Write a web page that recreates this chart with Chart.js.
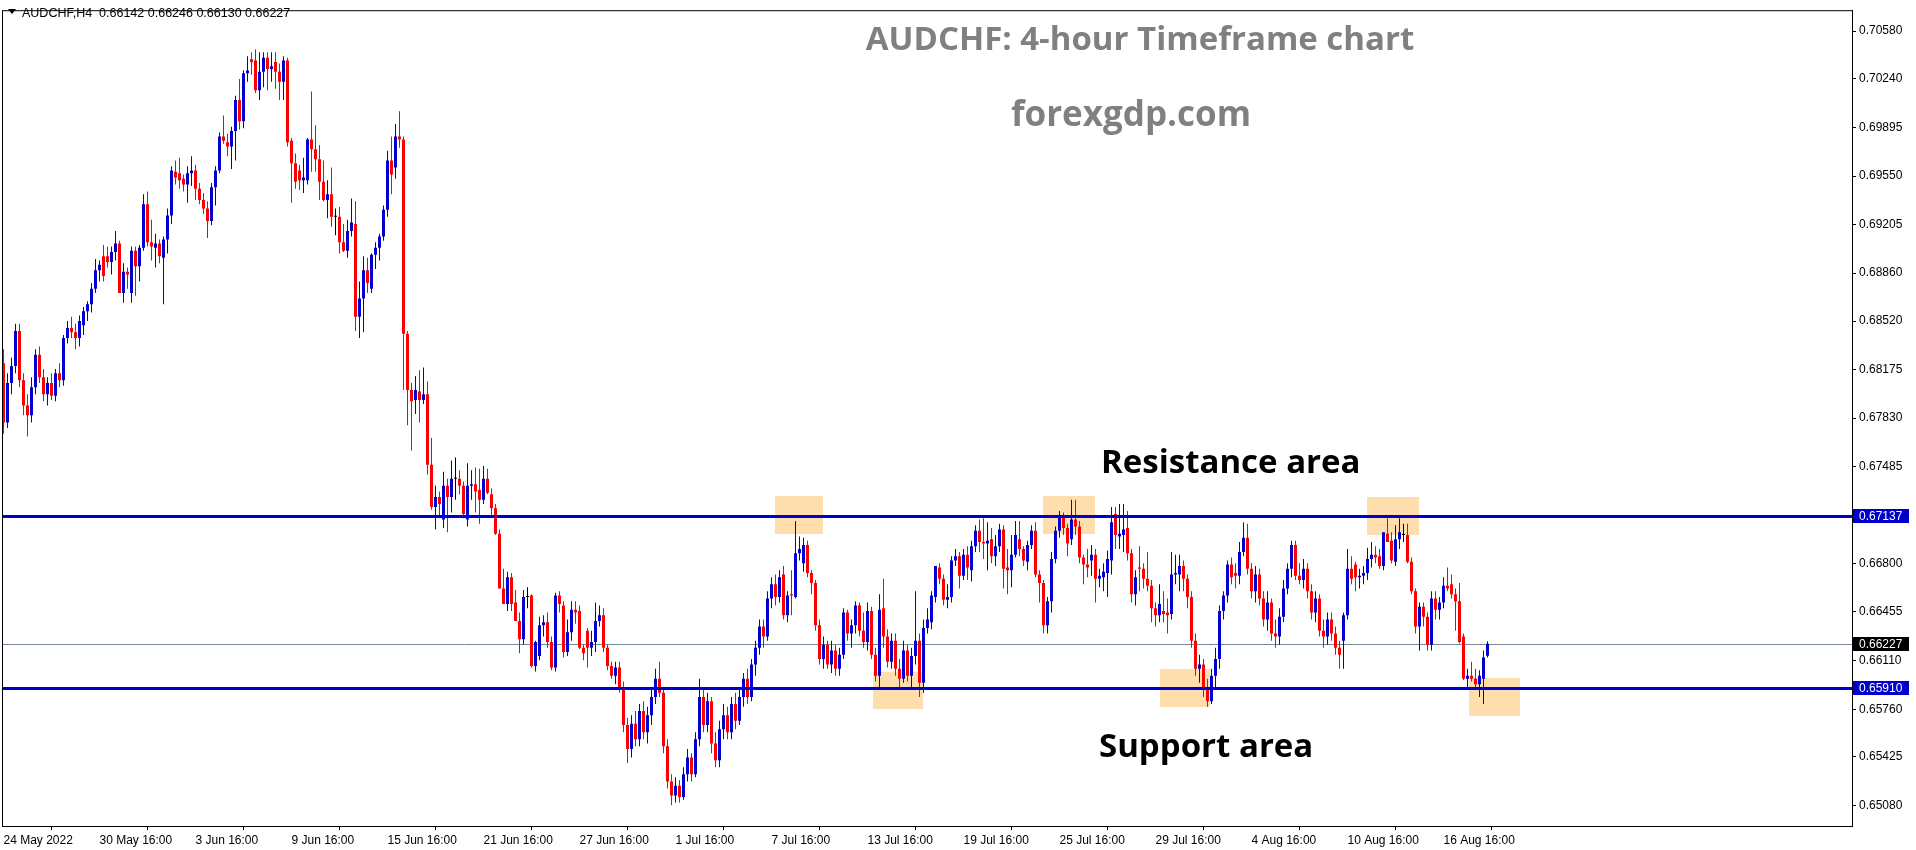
<!DOCTYPE html>
<html><head><meta charset="utf-8">
<script src="https://cdn.jsdelivr.net/npm/chart.js@4.4.1/dist/chart.umd.min.js"></script>
<style>html,body{margin:0;padding:0;background:#fff;overflow:hidden}canvas{display:block}</style>
</head><body>
<canvas id="c" width="1916" height="850" style="width:1916px;height:850px"></canvas>
<script>
// AUDCHF H4 candles, prices in pips (price x 10000)
const O = [6822,6780,6808,6820,6845,6810,6792,6785,6805,6828,6812,6800,6808,6799,6815,6810,6840,6847,6844,6840,
6849,6859,6864,6875,6888,6898,6898,6894,6901,6907,6872,6887,6872,6902,6891,6904,6935,6908,6904,6907,
6897,6910,6927,6958,6957,6953,6949,6957,6959,6946,6938,6932,6923,6947,6959,6983,6979,6976,6987,7009,
6994,7028,7038,7037,7016,7029,7039,7031,7036,7029,7022,7037,6980,6964,6959,6952,6952,6981,6974,6967,
6951,6938,6942,6926,6926,6908,6902,6916,6921,6855,6868,6888,6875,6899,6904,6912,6931,6966,6961,6983,
6981,6843,6803,6796,6802,6796,6800,6750,6720,6727,6711,6735,6727,6740,6740,6735,6711,6735,6736,6732,
6725,6740,6729,6719,6701,6662,6651,6670,6652,6639,6626,6656,6657,6607,6614,6636,6638,6624,6606,6657,
6650,6617,6631,6647,6646,6620,6632,6620,6624,6639,6643,6620,6607,6600,6606,6592,6565,6548,6566,6555,
6575,6560,6572,6585,6598,6588,6550,6525,6515,6522,6514,6530,6542,6530,6555,6585,6565,6582,6552,6540,
6562,6572,6560,6580,6568,6585,6598,6585,6608,6620,6635,6628,6655,6665,6656,6672,6643,6658,6656,6687,
6680,6693,6673,6666,6636,6612,6622,6608,6618,6605,6615,6645,6630,6636,6650,6632,6624,6646,6615,6600,
6648,6628,6610,6625,6605,6598,6618,6600,6614,6625,6595,6634,6638,6656,6677,6669,6654,6656,6682,6685,
6671,6686,6675,6692,6703,6695,6694,6697,6685,6692,6704,6677,6675,6686,6697,6690,6681,6693,6703,6672,
6666,6636,6653,6683,6703,6714,6705,6697,6711,6706,6684,6679,6682,6686,6669,6670,6673,6682,6715,6699,
6700,6705,6687,6658,6677,6676,6669,6664,6648,6643,6646,6645,6644,6672,6672,6678,6669,6656,6625,6605,
6608,6590,6582,6600,6612,6646,6657,6679,6673,6671,6688,6698,6676,6660,6672,6655,6640,6652,6630,6628,
6642,6662,6676,6693,6671,6668,6676,6660,6645,6655,6632,6628,6640,6630,6620,6625,6643,6676,6679,6670,
6671,6673,6683,6686,6685,6678,6701,6696,6681,6697,6700,6700,6681,6660,6635,6649,6642,6622,6655,6647,
6652,6664,6665,6658,6653,6628,6598,6600,6598,6594,6598,6614.2];
const H = [6832,6815,6826,6850,6850,6815,6800,6812,6832,6834,6818,6812,6815,6818,6822,6842,6852,6855,6850,6856,
6862,6866,6879,6896,6895,6906,6905,6905,6916,6909,6893,6890,6905,6905,6906,6942,6944,6924,6914,6910,
6912,6932,6962,6966,6968,6956,6962,6969,6963,6950,6943,6937,6950,6962,6986,6998,6985,6990,7012,7024,
7030,7040,7043,7045,7043,7043,7043,7043,7043,7035,7040,7039,6982,6971,6963,6968,6982,7015,6991,6977,
6966,6952,6961,6932,6933,6921,6924,6939,6937,6880,6898,6897,6900,6908,6914,6934,6973,6983,6992,7001,
6983,6845,6808,6813,6817,6819,6809,6769,6735,6731,6745,6740,6753,6755,6746,6738,6751,6746,6748,6747,
6749,6747,6733,6722,6704,6676,6674,6673,6661,6645,6661,6663,6658,6625,6642,6643,6645,6628,6659,6660,
6653,6640,6653,6653,6650,6622,6634,6632,6652,6650,6648,6622,6610,6610,6610,6596,6570,6572,6575,6580,
6582,6578,6590,6605,6610,6592,6555,6530,6528,6526,6535,6548,6545,6560,6598,6590,6588,6585,6560,6568,
6580,6578,6585,6588,6590,6602,6605,6612,6625,6640,6640,6660,6670,6672,6675,6678,6660,6675,6710,6699,
6698,6696,6675,6668,6640,6628,6625,6625,6622,6620,6648,6647,6640,6653,6652,6645,6652,6649,6620,6658,
6669,6633,6630,6630,6612,6625,6622,6620,6660,6630,6640,6648,6660,6678,6680,6672,6665,6685,6690,6688,
6690,6692,6696,6707,6711,6712,6709,6705,6700,6708,6707,6690,6700,6710,6710,6692,6696,6707,6709,6675,
6668,6656,6688,6706,6717,6716,6708,6725,6725,6710,6686,6690,6693,6690,6676,6680,6689,6720,6720,6722,
6722,6717,6690,6675,6692,6680,6688,6668,6652,6665,6660,6655,6688,6686,6686,6682,6672,6660,6630,6615,
6612,6598,6605,6620,6650,6660,6682,6684,6680,6695,6709,6708,6680,6678,6676,6660,6660,6655,6640,6648,
6668,6680,6696,6696,6680,6683,6680,6665,6660,6658,6640,6645,6645,6635,6625,6645,6690,6685,6681,6676,
6678,6691,6695,6692,6690,6702,6712,6702,6707,6712,6708,6708,6684,6662,6652,6652,6645,6660,6660,6656,
6670,6677,6672,6662,6666,6630,6605,6610,6605,6604,6618,6624.6];
const L = [6772,6776,6800,6815,6805,6785,6770,6780,6800,6808,6795,6792,6796,6795,6805,6806,6836,6840,6832,6834,
6842,6852,6858,6872,6880,6880,6890,6885,6895,6872,6865,6875,6865,6870,6880,6902,6905,6895,6890,6893,
6864,6900,6921,6949,6946,6944,6936,6948,6938,6935,6928,6911,6920,6934,6957,6978,6969,6960,6966,6988,
6989,7022,7027,7014,7009,7018,7016,7022,7017,7009,7009,6976,6936,6946,6945,6943,6949,6958,6958,6938,
6937,6925,6919,6913,6900,6901,6897,6912,6845,6840,6844,6872,6872,6889,6895,6909,6926,6942,6953,6975,
6803,6778,6760,6786,6780,6793,6743,6718,6704,6713,6705,6702,6716,6725,6729,6712,6706,6725,6716,6708,
6722,6729,6714,6700,6662,6651,6646,6646,6639,6616,6622,6648,6606,6603,6611,6628,6620,6604,6603,6645,
6613,6614,6625,6637,6619,6611,6606,6614,6617,6635,6617,6604,6598,6594,6588,6560,6538,6542,6550,6550,
6555,6552,6565,6580,6585,6545,6520,6508,6510,6510,6512,6525,6525,6528,6550,6560,6560,6545,6535,6535,
6555,6555,6555,6562,6565,6578,6580,6582,6600,6615,6620,6625,6648,6650,6652,6640,6638,6643,6655,6682,
6674,6670,6658,6632,6608,6605,6605,6602,6600,6600,6612,6625,6620,6630,6628,6620,6618,6612,6596,6592,
6620,6606,6605,6600,6590,6595,6596,6592,6608,6585,6588,6630,6633,6652,6665,6650,6648,6652,6678,6662,
6668,6668,6667,6688,6688,6683,6675,6680,6678,6688,6662,6658,6663,6684,6685,6678,6675,6690,6670,6652,
6630,6630,6645,6680,6698,6700,6685,6693,6700,6680,6665,6670,6671,6652,6663,6660,6656,6672,6690,6690,
6688,6682,6652,6650,6660,6662,6660,6638,6635,6638,6638,6630,6640,6665,6660,6660,6648,6620,6600,6595,
6585,6578,6580,6590,6605,6640,6652,6665,6662,6665,6685,6672,6655,6652,6650,6635,6632,6625,6620,6622,
6638,6658,6670,6668,6665,6662,6655,6640,6638,6628,6620,6622,6625,6615,6605,6605,6640,6665,6660,6662,
6665,6668,6677,6680,6676,6675,6695,6680,6678,6690,6695,6680,6658,6630,6618,6635,6618,6618,6640,6640,
6648,6660,6655,6632,6623,6597,6590,6596,6590,6585,6580,6613];
const C = [6780,6808,6820,6845,6810,6792,6785,6805,6828,6812,6800,6808,6799,6815,6810,6840,6847,6844,6840,6852,
6859,6864,6875,6888,6892,6884,6894,6901,6907,6872,6887,6885,6902,6891,6904,6935,6908,6905,6907,6898,
6910,6927,6959,6954,6952,6949,6957,6959,6946,6938,6932,6923,6947,6959,6983,6980,6976,6987,7009,6994,
7028,7030,7036,7016,7029,7039,7031,7033,7029,7022,7037,6979,6964,6951,6952,6954,6981,6974,6967,6951,
6938,6942,6926,6926,6908,6902,6916,6922,6855,6868,6888,6879,6899,6904,6912,6931,6966,6956,6983,6981,
6843,6803,6795,6803,6796,6800,6750,6720,6727,6722,6735,6727,6740,6740,6735,6715,6735,6736,6731,6725,
6740,6730,6719,6701,6662,6651,6670,6651,6639,6626,6656,6656,6607,6624,6636,6638,6624,6606,6657,6651,
6617,6631,6647,6645,6620,6616,6620,6624,6639,6643,6620,6607,6600,6606,6592,6565,6548,6566,6555,6575,
6560,6572,6585,6598,6588,6550,6525,6515,6522,6514,6530,6542,6530,6555,6585,6565,6582,6552,6540,6562,
6572,6560,6580,6568,6585,6598,6585,6608,6620,6635,6628,6655,6665,6656,6670,6643,6657,6657,6687,6690,
6693,6673,6666,6636,6612,6622,6608,6618,6605,6615,6645,6630,6636,6650,6632,6624,6646,6615,6600,6647,
6628,6610,6625,6605,6598,6618,6600,6614,6625,6595,6634,6640,6657,6678,6669,6654,6656,6682,6685,6671,
6686,6677,6692,6703,6695,6694,6696,6685,6692,6704,6676,6675,6686,6700,6690,6682,6693,6703,6672,6666,
6636,6653,6683,6703,6714,6705,6694,6711,6706,6684,6679,6677,6686,6669,6671,6674,6683,6709,6700,6701,
6704,6687,6658,6670,6676,6669,6664,6648,6643,6651,6644,6643,6672,6673,6678,6669,6656,6625,6605,6608,
6590,6582,6600,6612,6646,6657,6679,6670,6671,6688,6698,6676,6660,6672,6655,6640,6652,6630,6628,6642,
6662,6676,6693,6671,6668,6676,6660,6645,6655,6632,6628,6640,6630,6620,6615,6643,6676,6669,6670,6671,
6673,6683,6686,6684,6678,6702,6695,6682,6697,6702,6700,6681,6660,6635,6649,6642,6622,6655,6647,6652,
6664,6662,6658,6653,6624,6598,6600,6598,6594,6600,6613,6622.7];

// time axis labels: one label every 24 bars (4 days of H4)
const tickBars = [0,24,48,72,96,120,144,168,192,216,240,264,288,312,336,360];
const dateLabels = ["24 May 2022","30 May 16:00","3 Jun 16:00","9 Jun 16:00","15 Jun 16:00","21 Jun 16:00",
"27 Jun 16:00","1 Jul 16:00","7 Jul 16:00","13 Jul 16:00","19 Jul 16:00","25 Jul 16:00","29 Jul 16:00",
"4 Aug 16:00","10 Aug 16:00","16 Aug 16:00"];
// price axis labels
const priceTicks = [0.70580,0.70240,0.69895,0.69550,0.69205,0.68860,0.68520,0.68175,0.67830,0.67485,
0.66800,0.66455,0.66110,0.65760,0.65425,0.65080];
// levels
const resistance = 0.67137, support = 0.65910, lastPrice = 0.66227;
// zones: [fromBar, toBar, topPrice, bottomPrice]
const zonesR = [[192.9,204.9,0.67275,0.67007],[259.9,272.9,0.67275,0.67007],[340.9,353.9,0.67268,0.67000]];
const zonesS = [[217.3,229.8,0.66030,0.65762],[289.2,301.7,0.66046,0.65778],[366.4,379.1,0.65982,0.65715]];

const BLUE='#0000D0', RED='#FF0000', DOJI='#000000';
const n = C.length;
const idx = Array.from({length:n},(_,i)=>i);
const col = idx.map(i => C[i]>O[i]?BLUE:(C[i]<O[i]?RED:DOJI));
const bodies = idx.map(i => ({x:i, y:[O[i]/1e4, C[i]/1e4]}));
const wicks = idx.map(i => ({x:i, y:[L[i]/1e4, H[i]/1e4]}));

const overlay = {
  id:'overlay',
  beforeDatasetsDraw(chart){
    const {ctx, scales:{x,y}, chartArea:a} = chart;
    ctx.save();
    ctx.fillStyle = '#FFDEAD';
    zonesR.concat(zonesS).forEach(z=>{
      const x0=Math.round(x.getPixelForValue(z[0])), x1=Math.round(x.getPixelForValue(z[1]));
      const y0=Math.round(y.getPixelForValue(z[2])), y1=Math.round(y.getPixelForValue(z[3]));
      ctx.fillRect(x0,y0,x1-x0,y1-y0);
    });
    const yl = Math.round(y.getPixelForValue(lastPrice))+0.5;
    ctx.strokeStyle='#778899'; ctx.lineWidth=1;
    ctx.beginPath(); ctx.moveTo(a.left,yl); ctx.lineTo(a.right,yl); ctx.stroke();
    ctx.restore();
  },
  afterDatasetsDraw(chart){
    const {ctx, scales:{x,y}, chartArea:a} = chart;
    ctx.save();
    ctx.fillStyle='#0000CC';
    [resistance,support].forEach(p=>{
      const yy=Math.round(y.getPixelForValue(p));
      ctx.fillRect(a.left, yy-1, a.right-a.left, 3);
    });
    ctx.fillStyle='#808080';
    ctx.textAlign='center'; ctx.textBaseline='alphabetic';
    ctx.font='bold 33px "Open Sans"';
    ctx.fillText('AUDCHF: 4-hour Timeframe chart', 1140, 50);
    ctx.font='bold 35px "Open Sans"';
    ctx.fillText('forexgdp.com', 1131, 126);
    ctx.fillStyle='#000000'; ctx.textAlign='left';
    ctx.font='bold 33px "Open Sans"';
    ctx.fillText('Resistance area', 1101, 473);
    ctx.fillText('Support area', 1099, 757);
    ctx.font='12.5px "Liberation Sans"';
    ctx.fillText('AUDCHF,H4  0.66142 0.66246 0.66130 0.66227', 22, 17);
    ctx.beginPath(); ctx.moveTo(8,9); ctx.lineTo(16,9); ctx.lineTo(12,14); ctx.closePath(); ctx.fill();
    ctx.restore();
  },
  afterDraw(chart){
    const {ctx, scales:{y}, chartArea:a} = chart;
    ctx.save();
    ctx.strokeStyle='#000'; ctx.lineWidth=1;
    ctx.strokeRect(a.left+0.5, a.top+0.5, a.right-a.left, a.bottom-a.top);
    ctx.font='12px "Liberation Sans"'; ctx.textBaseline='middle'; ctx.textAlign='left';
    [[resistance,'#0000CC'],[lastPrice,'#000000'],[support,'#0000CC']].forEach(([p,c])=>{
      const yy=Math.round(y.getPixelForValue(p));
      ctx.fillStyle=c; ctx.fillRect(a.right+1, yy-7, 56, 14);
      ctx.fillStyle='#fff'; ctx.fillText(p.toFixed(5), a.right+7, yy+0.5);
    });
    ctx.restore();
  }
};

new Chart(document.getElementById('c'), {
  type:'bar',
  data:{ datasets:[
    {label:'body', data:bodies, backgroundColor:col, barThickness:3, grouped:false, inflateAmount:0, borderWidth:0, minBarLength:1},
    {label:'wick', data:wicks, backgroundColor:col, barThickness:1, grouped:false, inflateAmount:0, borderWidth:0}
  ]},
  options:{
    responsive:false, animation:false, devicePixelRatio:1,
    layout:{padding:{left:2, top:3, right:0, bottom:0}},
    plugins:{legend:{display:false}, tooltip:{enabled:false}},
    scales:{
      x:{type:'linear', min:-0.375, max:462.125, offset:false,
        afterBuildTicks(s){ s.ticks = tickBars.map(v=>({value:v})); },
        afterFit(s){ s.height = 24; },
        grid:{display:true, drawOnChartArea:false, drawTicks:true, tickLength:4, color:'#000'},
        border:{display:true, color:'#000'},
        ticks:{align:'start', padding:3, color:'#000', font:{family:'Liberation Sans', size:12},
          maxRotation:0, autoSkip:false,
          callback(v){ const k=tickBars.indexOf(v); return k>=0?dateLabels[k]:''; }}
      },
      y:{type:'linear', position:'right', min:0.649333, max:0.707279,
        afterBuildTicks(s){ s.ticks = priceTicks.map(v=>({value:v})); },
        afterFit(s){ s.width = 64; },
        grid:{display:true, drawOnChartArea:false, drawTicks:true, tickLength:4, color:'#000'},
        border:{display:true, color:'#000'},
        ticks:{padding:3, color:'#000', font:{family:'Liberation Sans', size:12}, autoSkip:false,
          callback(v){ return Number(v).toFixed(5); }}
      }
    }
  },
  plugins:[overlay]
});
</script></body></html>
